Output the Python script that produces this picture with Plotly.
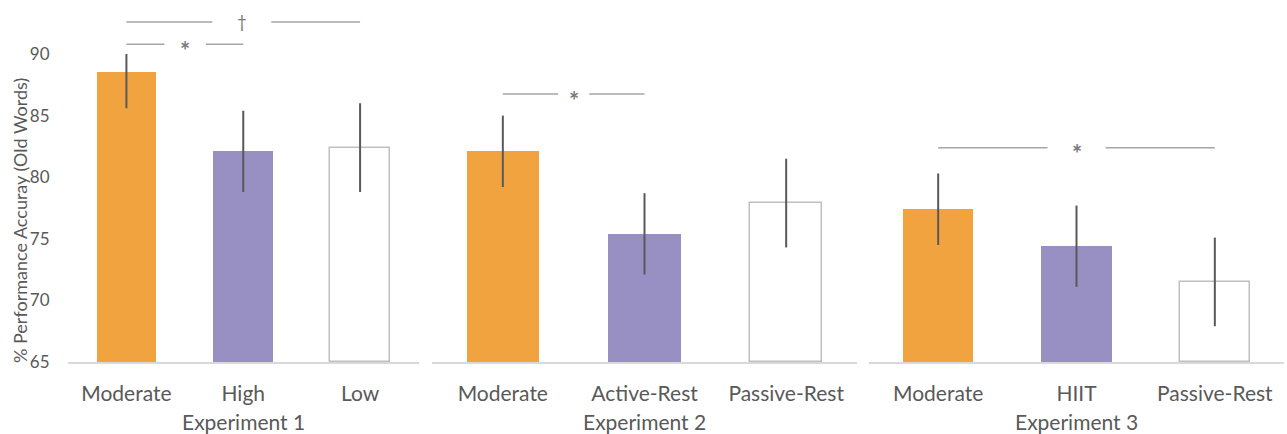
import plotly.graph_objects as go

# ---- data ----
experiments = ["Experiment 1", "Experiment 2", "Experiment 3"]
conditions = [
    ["Moderate", "High", "Low"],
    ["Moderate", "Active-Rest", "Passive-Rest"],
    ["Moderate", "HIIT", "Passive-Rest"],
]
accuracy = [
    [88.5, 82.1, 82.4],
    [82.1, 75.4, 77.9],
    [77.4, 74.4, 71.5],
]
sem = [
    [2.9, 3.3, 3.6],
    [2.9, 3.3, 3.6],
    [2.9, 3.3, 3.6],
]
# significance brackets: (experiment index, from cat, to cat, height, symbol, gap left, gap right)
brackets = [
    (0, 0, 2, 92.6, "†", 0.735, 1.24),
    (0, 0, 1, 90.8, "*", 0.325, 0.68),
    (1, 0, 1, 86.75, "*", 0.39, 0.61),
    (2, 0, 2, 82.4, "*", 0.79, 1.21),
]
y_ticks = [65, 70, 75, 80, 85, 90]
y_range = [65, 90]
y_title = "% Performance Accuray (Old Words)"

# ---- style ----
fill_colors = ["#F0A33E", "#9890C3", "#FFFFFF"]
edge_colors = ["#F0A33E", "#9890C3", "#BFBFBF"]
edge_widths = [0, 0, 1.5]
font_family = "Lato, Open Sans, sans-serif"
text_color = "#595959"

W, H = 1287, 434
ml, mr, mt, mb = 68, 3, 54, 72
pw = W - ml - mr
ph = H - mt - mb
domains = [
    [0.0, (418.5 - ml) / pw],
    [(432 - ml) / pw, (857 - ml) / pw],
    [(869 - ml) / pw, 1.0],
]


def to_paper(v):
    return (v - y_range[0]) / (y_range[1] - y_range[0])


fig = go.Figure()
for i in range(3):
    xa = "x" if i == 0 else f"x{i+1}"
    fig.add_trace(go.Bar(
        x=[0, 1, 2],
        y=[v - 65 for v in accuracy[i]],
        base=65,
        width=0.51,
        marker=dict(color=fill_colors, line=dict(color=edge_colors, width=edge_widths)),
        error_y=dict(type="data", array=sem[i], color="#595959", thickness=2, width=0),
        xaxis=xa, yaxis="y",
        showlegend=False,
        hoverinfo="skip",
    ))

for (e, a, b, h, sym, g1, g2) in brackets:
    xa = "x" if e == 0 else f"x{e+1}"
    yp = to_paper(h)
    for (x0, x1) in [(a, g1), (g2, b)]:
        fig.add_shape(type="line", xref=xa, yref="paper", x0=x0, x1=x1, y0=yp, y1=yp,
                      line=dict(color="#A6A6A6", width=1.5))
    fig.add_annotation(
        x=(g1 + g2) / 2, y=yp, xref=xa, yref="paper",
        text=f"<b>{sym}</b>" if sym == "*" else sym, showarrow=False,
        yanchor="middle",
        font=dict(size=24 if sym == "*" else 17, color="#7A7A7A", family=font_family),
        yshift=-6 if sym == "*" else 0,
    )

layout = dict(
    width=W, height=H,
    margin=dict(l=ml, r=mr, t=mt, b=mb, autoexpand=False),
    paper_bgcolor="white", plot_bgcolor="white",
    font=dict(family=font_family, color=text_color),
    bargap=0,
    yaxis=dict(
        range=y_range, tickvals=y_ticks, showgrid=False, zeroline=False,
        showline=False, ticks="outside", ticklen=14, tickcolor="rgba(0,0,0,0)",
        tickfont=dict(size=17, color=text_color), automargin=False,
    ),
)
for i in range(3):
    key = "xaxis" if i == 0 else f"xaxis{i+1}"
    layout[key] = dict(
        domain=domains[i], range=[-0.5, 2.5],
        tickvals=[0, 1, 2], ticktext=conditions[i],
        showgrid=False, zeroline=False, showline=True, linecolor="#D9D9D9", linewidth=1.5,
        ticks="outside", ticklen=12, tickcolor="rgba(0,0,0,0)",
        tickfont=dict(size=21, color=text_color), automargin=False,
        anchor="y",
    )
fig.update_layout(**layout)

# y-axis title
fig.add_annotation(
    x=(20 - ml) / pw, xref="paper", y=(H - mb - 211) / ph, yref="paper",
    text=y_title, textangle=-90, showarrow=False, xanchor="center", yanchor="middle",
    font=dict(size=18, color=text_color, family=font_family),
    yshift=-10,
)

for i in range(3):
    xa = "x" if i == 0 else f"x{i+1}"
    fig.add_annotation(
        x=1, xref=xa, y=-(421 - (H - mb)) / ph, yref="paper",
        text=experiments[i], showarrow=False, yanchor="middle",
        font=dict(size=21, color=text_color, family=font_family),
    )

fig.write_html("out.html", config={"displayModeBar": False},
               post_script="document.body.style.margin='0';")
